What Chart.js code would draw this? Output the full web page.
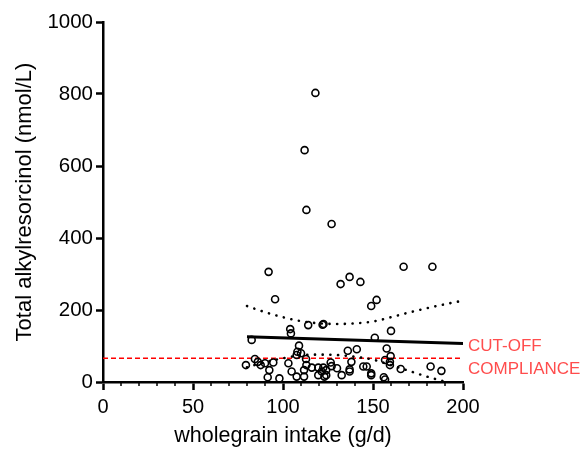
<!DOCTYPE html>
<html>
<head>
<meta charset="utf-8">
<script src="https://cdn.jsdelivr.net/npm/chart.js@4.4.1/dist/chart.umd.min.js"></script>
<style>
  html, body { margin: 0; padding: 0; background: #fff; }
  canvas { display: block; }
</style>
</head>
<body>
<canvas id="myChart" width="584" height="450"></canvas>
<script>
// wholegrain intake (g/d) for each subject
const intake = [118, 112, 113, 127, 92, 137, 132, 143, 167, 183,
  95.6, 149, 152, 114, 122, 122.5, 104, 104.4, 82.6, 151,
  160, 108.9, 108, 110, 107.6, 112.8, 84.4, 79.4, 86, 87.6,
  90, 94.6, 92.4, 91.5, 98, 103, 104.8, 107.6, 111.7, 111.7,
  113, 136, 141, 138, 116, 119.6, 122.4, 124, 126.5, 127,
  121.5, 124, 119.6, 123, 130, 132.6, 137, 137, 144.6, 146.5,
  149, 157.6, 159.8, 156.7, 159.4, 159.4, 165.4, 182, 188, 149,
  156, 156.7]
// total alkylresorcinol (nmol/L)
const alkyl = [803, 644, 478, 439, 306, 292, 272, 278, 320, 320,
  230, 211, 228, 158, 159, 161, 147, 135, 117, 123,
  142, 101, 84, 80, 75, 64, 64, 47, 56, 47,
  52, 54, 33, 13, 10, 52, 29, 15, 33, 15,
  47, 87, 91, 56, 40, 40, 40, 33, 54, 44,
  29, 19, 19, 15, 38, 19, 29, 35, 43, 43,
  19, 93, 72, 61, 56, 47, 36, 43, 31, 24,
  13, 7]

const fitX = [80, 200]
const fitY = [126, 107]

const bandX = [80, 90, 100, 110, 120, 130, 140, 150, 160, 170, 180, 190, 200]
const bandUpper = [211, 194, 180, 169, 163, 161, 163, 168, 180, 193, 205, 216, 226]
const bandLower = [41, 55, 66, 74, 76, 75, 70, 62, 47, 31, 15, 1, null]

const cutoff = 66
const xTicks = [0, 50, 100, 150, 200]
const yTicks = [0, 200, 400, 600, 800, 1000]

const font = 'Liberation Sans, Arial, sans-serif'

const pts = intake.map((x, i) => ({ x: x, y: alkyl[i] }))
const fit = fitX.map((x, i) => ({ x: x, y: fitY[i] }))
const upper = bandX.map((x, i) => ({ x: x, y: bandUpper[i] }))
const lower = []
bandX.forEach((x, i) => { if (bandLower[i] !== null) lower.push({ x: x, y: bandLower[i] }) })

const extras = {
    id: 'extras',
    afterDraw(chart) {
        const ctx = chart.ctx
        const xs = chart.scales.x
        const ys = chart.scales.y
        const bottom = chart.chartArea.bottom
        ctx.save()
        // minor ticks on the x axis
        ctx.strokeStyle = '#000'
        ctx.lineWidth = 1.5
        for (let v = 10; v < 200; v += 10) {
            if (v % 50 === 0) continue
            const px = Math.round(xs.getPixelForValue(v))
            ctx.beginPath()
            ctx.moveTo(px, bottom)
            ctx.lineTo(px, bottom + 4)
            ctx.stroke()
        }
        // cut-off label
        const py = ys.getPixelForValue(cutoff)
        ctx.fillStyle = '#ff4d4d'
        ctx.font = '17px ' + font
        ctx.textAlign = 'left'
        ctx.textBaseline = 'middle'
        ctx.fillText('CUT-OFF', chart.chartArea.right + 5, py - 12)
        ctx.fillText('COMPLIANCE', chart.chartArea.right + 5, py + 11)
        ctx.restore()
    }
}

var ctx = document.getElementById('myChart').getContext('2d');
var myChart = new Chart(ctx, {
    type: 'scatter',
    data: {
        datasets: [{
            label: 'subjects',
            data: pts,
            pointRadius: 3.5,
            pointHoverRadius: 3.5,
            pointBorderWidth: 1.6,
            borderColor: '#000',
            backgroundColor: 'rgba(0,0,0,0)'
        }, {
            type: 'line',
            label: 'fit',
            data: fit,
            borderColor: '#000',
            borderWidth: 3,
            pointRadius: 0,
            fill: false
        }, {
            type: 'line',
            label: 'upper',
            data: upper,
            borderColor: '#000',
            borderWidth: 2.6,
            borderDash: [0.1, 7.6],
            borderCapStyle: 'round',
            cubicInterpolationMode: 'monotone',
            pointRadius: 0,
            fill: false
        }, {
            type: 'line',
            label: 'lower',
            data: lower,
            borderColor: '#000',
            borderWidth: 2.6,
            borderDash: [0.1, 7.6],
            borderCapStyle: 'round',
            cubicInterpolationMode: 'monotone',
            pointRadius: 0,
            fill: false
        }, {
            type: 'line',
            label: 'cutoff',
            data: [{ x: 0, y: cutoff }, { x: 200, y: cutoff }],
            borderColor: '#ff0000',
            borderWidth: 1.3,
            borderDash: [5, 3],
            pointRadius: 0,
            fill: false
        }]
    },
    options: {
        responsive: false,
        devicePixelRatio: 1,
        animation: false,
        layout: { padding: { left: 0, right: 121, top: 22, bottom: 0 } },
        scales: {
            x: {
                type: 'linear',
                min: 0,
                max: 200,
                afterFit: (s) => { s.height = 68 },
                afterBuildTicks: (s) => { s.ticks = xTicks.map(v => ({ value: v })) },
                border: { color: '#000', width: 2.5 },
                grid: { drawOnChartArea: false, tickLength: 8, tickWidth: 2.5, tickColor: '#000' },
                ticks: { color: '#000', font: { size: 20, family: font }, padding: 5, callback: (v) => String(v) },
                title: {
                    display: true,
                    text: 'wholegrain intake (g/d)',
                    color: '#000',
                    font: { size: 21.5, family: font },
                    padding: { top: 0, bottom: 1 }
                }
            },
            y: {
                type: 'linear',
                min: 0,
                max: 1000,
                afterFit: (s) => { s.width = 103 },
                afterBuildTicks: (s) => { s.ticks = yTicks.map(v => ({ value: v })) },
                border: { color: '#000', width: 2.5 },
                grid: { drawOnChartArea: false, tickLength: 7, tickWidth: 2.5, tickColor: '#000' },
                ticks: { color: '#000', font: { size: 20.5, family: font }, padding: 3, callback: (v) => String(v) },
                title: {
                    display: true,
                    text: 'Total alkylresorcinol (nmol/L)',
                    color: '#000',
                    font: { size: 22, family: font },
                    padding: { top: 12, bottom: 0 }
                }
            }
        },
        plugins: {
            legend: { display: false },
            tooltip: { enabled: false }
        }
    },
    plugins: [extras]
});
</script>
</body>
</html>
